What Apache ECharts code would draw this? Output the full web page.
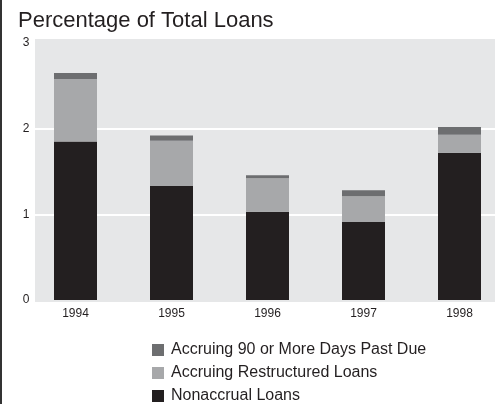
<!DOCTYPE html>
<html>
<head>
<meta charset="utf-8">
<script src="https://cdn.jsdelivr.net/npm/echarts@6/dist/echarts.min.js"></script>
<style>html,body{margin:0;padding:0;background:#fff;}#c{width:502px;height:404px;}</style>
</head>
<body>
<div id="c"></div>
<script>
const years = ['1994', '1995', '1996', '1997', '1998'];
const nonaccrual = [1.85, 1.33, 1.03, 0.91, 1.72];
const restructured = [0.73, 0.53, 0.39, 0.30, 0.21];
const pastDue = [0.07, 0.06, 0.035, 0.07, 0.09];
const yTicks = [0, 1, 2, 3];
const seriesNames = ['Nonaccrual Loans', 'Accruing Restructured Loans', 'Accruing 90 or More Days Past Due'];
const titleText = 'Percentage of Total Loans';

const colors = ['#231f20', '#a7a8aa', '#6d6e70'];
const font = '"Liberation Sans", Arial, sans-serif';

const chart = echarts.init(document.getElementById('c'), null, {renderer: 'canvas'});
chart.setOption({
  animation: false,
  textStyle: {fontFamily: font},
  title: {
    text: titleText,
    left: 13, top: 5,
    textStyle: {fontFamily: font, fontSize: 22, fontWeight: 'normal', color: '#231f20'}
  },
  graphic: [
    {type: 'rect', left: 0, top: 0, shape: {width: 2, height: 404}, style: {fill: '#333'}},
    {type: 'rect', left: 35, top: 39, z: -100, shape: {width: 460, height: 263}, style: {fill: '#e6e7e8'}}
  ],
  grid: {left: 27.5, width: 480, top: 43, bottom: 104, show: false, outerBoundsMode: 'none', containLabel: false},
  xAxis: {
    type: 'category',
    data: years,
    axisLine: {show: false},
    axisTick: {show: false},
    splitLine: {show: false},
    axisLabel: {fontSize: 12, color: '#231f20', margin: 8, fontFamily: font}
  },
  yAxis: {
    type: 'value',
    min: yTicks[0], max: yTicks[yTicks.length - 1], interval: 1,
    axisLine: {show: false},
    axisTick: {show: false},
    splitLine: {show: true, showMinLine: false, showMaxLine: false, lineStyle: {color: '#ffffff', width: 2}},
    axisLabel: {fontSize: 12, color: '#231f20', margin: -2, fontFamily: font}
  },
  legend: {
    orient: 'vertical',
    left: 152, top: 342,
    width: 340, height: 80,
    padding: 0,
    itemWidth: 12, itemHeight: 12, itemGap: 7,
    icon: 'rect',
    data: [seriesNames[2], seriesNames[1], seriesNames[0]],
    textStyle: {fontSize: 16, color: '#231f20', fontFamily: font, lineHeight: 12, padding: [0, 0, 0, 2]}
  },
  series: [
    {name: seriesNames[0], type: 'bar', stack: 't', barWidth: 43, data: nonaccrual, itemStyle: {color: colors[0]}},
    {name: seriesNames[1], type: 'bar', stack: 't', barWidth: 43, data: restructured, itemStyle: {color: colors[1]}},
    {name: seriesNames[2], type: 'bar', stack: 't', barWidth: 43, data: pastDue, itemStyle: {color: colors[2]}}
  ]
});
</script>
</body>
</html>
